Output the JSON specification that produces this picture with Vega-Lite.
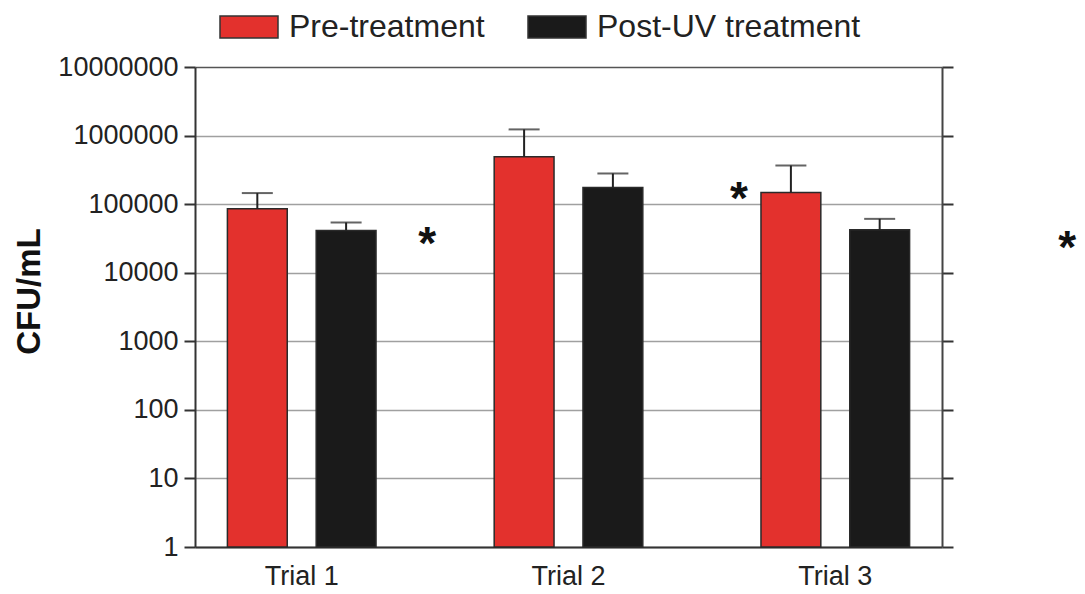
{
  "$schema": "https://vega.github.io/schema/vega-lite/v6.json",
  "width": 747,
  "height": 480,
  "autosize": {"type": "none"},
  "padding": {"left": 195, "top": 67, "right": 143, "bottom": 47},
  "background": "white",
  "config": {
    "view": {"stroke": null},
    "font": "Liberation Sans",
    "axis": {"labelFont": "Liberation Sans", "titleFont": "Liberation Sans", "labelColor": "#222", "titleColor": "#111"}
  },
  "datasets": {
    "bars": [
      {"trial": "Trial 1", "group": "Pre-treatment", "value": 85500, "upper": 145000},
      {"trial": "Trial 1", "group": "Post-UV treatment", "value": 41300, "upper": 54000},
      {"trial": "Trial 2", "group": "Pre-treatment", "value": 490000, "upper": 1230000},
      {"trial": "Trial 2", "group": "Post-UV treatment", "value": 175000, "upper": 280000},
      {"trial": "Trial 3", "group": "Pre-treatment", "value": 148000, "upper": 366000},
      {"trial": "Trial 3", "group": "Post-UV treatment", "value": 42300, "upper": 61000}
    ],
    "stars": [
      {"pos": 1.476, "value": 25500, "label": "*"},
      {"pos": 2.64, "value": 116000, "label": "*"},
      {"pos": 3.865, "value": 22300, "label": "*"}
    ]
  },
  "layer": [
    {
      "data": {"name": "bars"},
      "encoding": {
        "x": {
          "field": "trial", "type": "nominal",
          "scale": {"paddingInner": 0.2, "paddingOuter": 0},
          "axis": {"title": null, "labelAngle": 0, "labelFontSize": 27, "ticks": false, "tickSize": 0, "labelPadding": 16, "domainColor": "#333", "domainWidth": 2, "grid": false}
        },
        "xOffset": {
          "field": "group", "type": "nominal",
          "sort": ["Pre-treatment", "Post-UV treatment"],
          "scale": {"paddingInner": 0.326, "paddingOuter": 0.365}
        }
      },
      "layer": [
        {
          "mark": {"type": "bar", "stroke": "#2a2a2a", "strokeWidth": 1.5},
          "encoding": {
            "y": {
              "field": "value", "type": "quantitative",
              "scale": {"type": "log", "domain": [1, 10000000], "nice": false},
              "axis": {
                "title": "CFU/mL", "titleFontSize": 33, "titleFontWeight": "bold", "titlePadding": 11, "titleY": 224,
                "values": [1, 10, 100, 1000, 10000, 100000, 1000000, 10000000],
                "format": "d", "labelFontSize": 27, "labelPadding": 6,
                "tickSize": 11, "tickColor": "#333", "tickWidth": 2,
                "domainColor": "#333", "domainWidth": 2,
                "grid": true, "gridWidth": 1.5,
                "gridColor": {"condition": {"test": "datum.value == 10000000", "value": "#555"}, "value": "#a0a0a0"}
              }
            },
            "y2": {"datum": 1},
            "color": {
              "field": "group", "type": "nominal",
              "sort": ["Pre-treatment", "Post-UV treatment"],
              "scale": {"domain": ["Pre-treatment", "Post-UV treatment"], "range": ["#E3312D", "#1A1A1A"]},
              "legend": {
                "title": null, "orient": "none", "legendX": 24, "legendY": -70, "direction": "horizontal",
                "symbolType": "M-1,-0.38H1V0.38H-1Z", "symbolSize": 3364,
                "symbolStrokeColor": "#333", "symbolStrokeWidth": 1.5, "symbolOpacity": 1,
                "labelFont": "Liberation Sans", "labelFontSize": 32, "labelColor": "#222",
                "labelOffset": 10, "columnPadding": 40, "labelLimit": 400
              }
            }
          }
        },
        {
          "mark": {"type": "rule", "color": "#222", "strokeWidth": 2},
          "encoding": {
            "y": {"field": "value", "type": "quantitative"},
            "y2": {"field": "upper"}
          }
        },
        {
          "mark": {"type": "tick", "color": "#222", "thickness": 2, "size": 31, "orient": "horizontal"},
          "encoding": {
            "y": {"field": "upper", "type": "quantitative"}
          }
        }
      ]
    },
    {
      "data": {"name": "stars"},
      "mark": {"type": "text", "font": "Liberation Sans", "fontWeight": "bold", "fontSize": 46, "color": "#111", "baseline": "middle", "align": "center", "clip": false},
      "encoding": {
        "x": {"field": "pos", "type": "quantitative", "scale": {"domain": [0.6097, 3.3978], "nice": false, "zero": false}, "axis": null},
        "y": {
          "field": "value", "type": "quantitative",
          "scale": {"type": "log", "domain": [1, 10000000], "nice": false},
          "axis": {"orient": "right", "title": null, "labels": false, "grid": false, "values": [1, 10, 100, 1000, 10000, 100000, 1000000, 10000000], "tickSize": 11, "tickColor": "#333", "tickWidth": 2, "domainColor": "#444", "domainWidth": 2}
        },
        "text": {"field": "label"}
      }
    }
  ],
  "resolve": {"scale": {"x": "independent"}, "axis": {"y": "independent"}}
}
